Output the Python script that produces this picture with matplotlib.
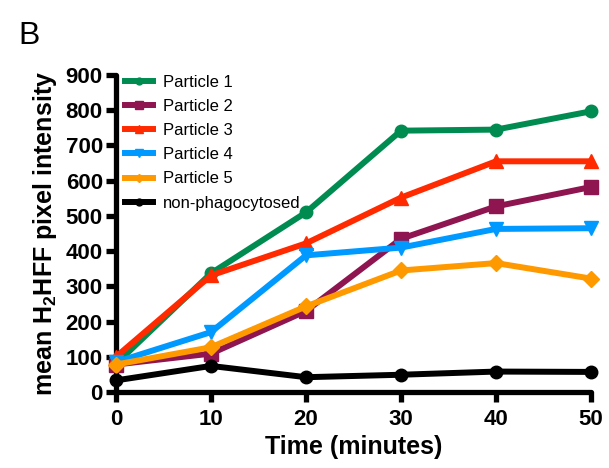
import numpy as np
import matplotlib
matplotlib.use("Agg")
import matplotlib.pyplot as plt

plt.rcParams['font.family'] = ['Liberation Sans', 'DejaVu Sans']
plt.rcParams['mathtext.fontset'] = 'custom'
plt.rcParams['mathtext.bf'] = 'Liberation Sans:bold'
plt.rcParams['mathtext.rm'] = 'Liberation Sans:bold'

# DATA
time_min = [0, 10, 20, 30, 40, 50]
particle_1 = [80, 337, 510, 742, 745, 797]
particle_2 = [78, 109, 230, 435, 527, 582]
particle_3 = [100, 331, 422, 552, 655, 655]
particle_4 = [85, 170, 388, 410, 463, 465]
particle_5 = [78, 127, 243, 345, 366, 322]
non_phago = [33, 74, 42, 49, 58, 57]
labels = ['Particle 1', 'Particle 2', 'Particle 3', 'Particle 4', 'Particle 5', 'non-phagocytosed']
colors = ['#008C50', '#8E1550', '#FF2A00', '#0099FF', '#FF9900', '#000000']
markers = ['o', 's', '^', 'v', 'D', 'o']
msizes = [9, 10, 10, 10, 8, 9]

fig = plt.figure(figsize=(6.09, 4.68), dpi=100)
ax = fig.add_axes([0.1905, 0.1624, 0.780, 0.6773])

series = [particle_1, particle_2, particle_3, particle_4, particle_5, non_phago]
for i in range(len(series)):
    ax.plot(time_min, series[i], color=colors[i], marker=markers[i], ms=msizes[i],
            lw=4.3, label=labels[i], clip_on=False, zorder=3 + i * 0.1)

ax.set_xlim(0, 50)
ax.set_ylim(0, 900)
ax.set_xticks(time_min)
ax.set_yticks(np.arange(0, 901, 100))
for s in ['top', 'right']:
    ax.spines[s].set_visible(False)
for s in ['left', 'bottom']:
    ax.spines[s].set_linewidth(3.8)
    ax.spines[s].set_capstyle('round')
ax.tick_params(width=3.8, length=7.5, labelsize=16)
ax.tick_params(axis='x', pad=5)
ax.tick_params(axis='y', pad=2)
for t in ax.get_xticklabels() + ax.get_yticklabels():
    t.set_fontweight('bold')

ax.set_xlabel('Time (minutes)', fontsize=18, fontweight='bold', labelpad=3)
ax.set_ylabel(r'mean H$_{\mathbf{2}}$HFF pixel intensity', fontsize=18, fontweight='bold', labelpad=5)

ax.legend(loc='upper left', bbox_to_anchor=(0.004, 1.022), borderaxespad=0, frameon=False,
          fontsize=12, handlelength=1.68, handletextpad=0.6, labelspacing=0.55, markerscale=0.55)

fig.text(0.03, 0.905, 'B', fontsize=23)

plt.savefig('out.png', dpi=100)
